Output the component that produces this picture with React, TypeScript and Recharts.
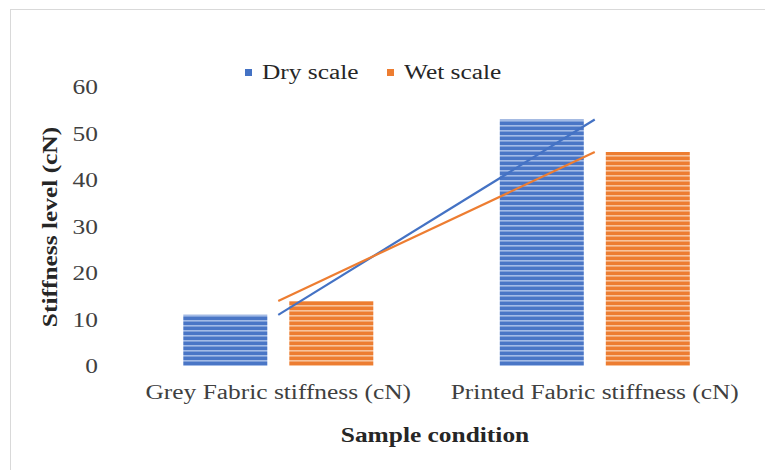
import React from "react";
import {
  ComposedChart,
  Bar,
  Line,
  XAxis,
  YAxis,
  Label,
} from "recharts";

const categories = ["Grey Fabric stiffness (cN)", "Printed Fabric stiffness (cN)"];
const dryScale = [11, 53];
const wetScale = [14, 46];
const yTicks = [0, 10, 20, 30, 40, 50, 60];

const data = categories.map((name, i) => ({
  name,
  dry: dryScale[i],
  wet: wetScale[i],
}));

const FONT = "Liberation Serif, Times New Roman, serif";
const SX = 1.27; // text in the source is drawn wide

function XTick(props: any) {
  const { x, y, payload } = props;
  return (
    <g transform={`translate(${x},${y})`}>
      <text
        transform={`scale(${SX},1)`}
        textAnchor="middle"
        y={25}
        fontSize={20}
        fontFamily={FONT}
        fill="#404040"
      >
        {payload.value}
      </text>
    </g>
  );
}

function YTick(props: any) {
  const { y, payload } = props;
  return (
    <g transform={`translate(98,${y})`}>
      <text
        transform={`scale(${SX},1)`}
        textAnchor="end"
        y={7}
        fontSize={20}
        fontFamily={FONT}
        fill="#404040"
      >
        {payload.value}
      </text>
    </g>
  );
}

function LegendItem({ left, color, text }: { left: number; color: string; text: string }) {
  return (
    <>
      <div
        style={{
          position: "absolute",
          left,
          top: 69,
          width: 7,
          height: 7,
          background: color,
        }}
      />
      <div
        style={{
          position: "absolute",
          left: left + 17,
          top: 60,
          fontSize: 20,
          fontFamily: FONT,
          lineHeight: "24px",
          color: "#262626",
          whiteSpace: "nowrap",
          transform: `scaleX(${SX})`,
          transformOrigin: "left center",
        }}
      >
        {text}
      </div>
    </>
  );
}

export default function App() {
  return (
    <div
      style={{
        position: "absolute",
        left: 0,
        top: 0,
        width: 765,
        height: 470,
        background: "#fff",
        overflow: "hidden",
        fontFamily: FONT,
      }}
    >
      <div
        style={{
          position: "absolute",
          left: 10,
          top: 9,
          width: 800,
          height: 500,
          border: "1.5px solid #d9d9d9",
        }}
      />
      <LegendItem left={245} color="#4472C4" text="Dry scale" />
      <LegendItem left={387} color="#ED7D31" text="Wet scale" />
      <ComposedChart
        width={765}
        height={470}
        data={data}
        margin={{ top: 87, right: 12, bottom: 0, left: 0 }}
        barCategoryGap="20%"
        barGap={22}
        style={{ position: "absolute", left: 0, top: 0 }}
      >
        <defs>
          <pattern id="dryStripes" patternUnits="userSpaceOnUse" width={8} height={5}>
            <rect width={8} height={5} fill="#4a76c6" />
            <rect y={0} width={8} height={1.6} fill="#a3bbe6" />
          </pattern>
          <pattern id="wetStripes" patternUnits="userSpaceOnUse" width={8} height={5}>
            <rect width={8} height={5} fill="#ED7D31" />
            <rect y={0} width={8} height={1.6} fill="#f7c29b" />
          </pattern>
        </defs>
        <XAxis
          dataKey="name"
          axisLine={false}
          tickLine={false}
          height={104}
          tick={<XTick />}
        >
          <Label
            content={() => (
              <text
                transform={`translate(435,442) scale(${SX},1)`}
                textAnchor="middle"
                fontSize={20}
                fontWeight="bold"
                fontFamily={FONT}
                fill="#262626"
              >
                Sample condition
              </text>
            )}
          />
        </XAxis>
        <YAxis
          domain={[0, 60]}
          ticks={yTicks}
          axisLine={false}
          tickLine={false}
          width={120}
          tick={<YTick />}
        >
          <Label
            content={() => (
              <text
                transform={`translate(57,227) rotate(-90) scale(${SX},1)`}
                textAnchor="middle"
                fontSize={20}
                fontWeight="bold"
                fontFamily={FONT}
                fill="#262626"
              >
                Stiffness level (cN)
              </text>
            )}
          />
        </YAxis>
        <Bar dataKey="dry" fill="url(#dryStripes)" isAnimationActive={false} />
        <Bar dataKey="wet" fill="url(#wetStripes)" isAnimationActive={false} />
        <Line
          type="linear"
          dataKey="dry"
          stroke="#4472C4"
          strokeWidth={2.2}
          dot={false}
          legendType="none"
          isAnimationActive={false}
        />
        <Line
          type="linear"
          dataKey="wet"
          stroke="#ED7D31"
          strokeWidth={2.2}
          dot={false}
          legendType="none"
          isAnimationActive={false}
        />
      </ComposedChart>
    </div>
  );
}
